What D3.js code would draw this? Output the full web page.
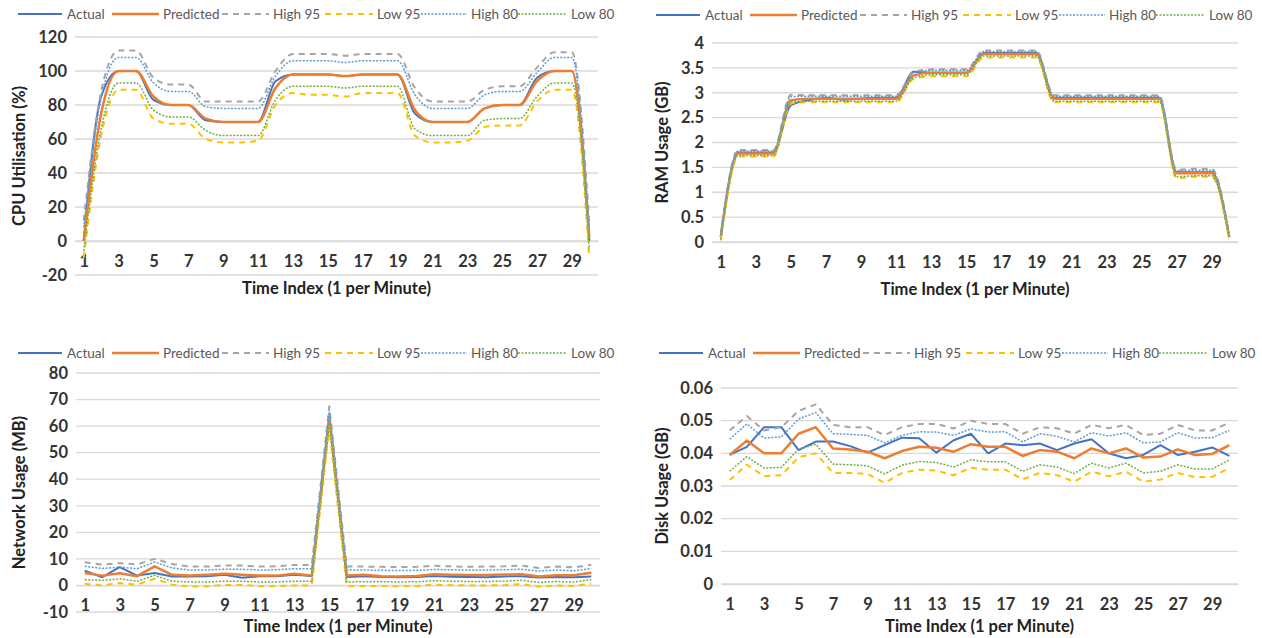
<!DOCTYPE html>
<html>
<head>
<meta charset="utf-8">
<script src="https://cdn.jsdelivr.net/npm/d3@7"></script>
<style>
  body { margin: 0; background: #fff; }
  svg { display: block; }
  text { font-family: Lato, "Open Sans", sans-serif; }
</style>
</head>
<body>
<svg id="chart" width="1262" height="638"></svg>
<script>
// ---- data ----
const timeIndex = d3.range(1, 31);
const xTickLabels = timeIndex.filter(d => d % 2 === 1);
const seriesNames = ["Actual", "Predicted", "High 95", "Low 95", "High 80", "Low 80"];

// CPU utilisation (%)
const cpuActual    = [0, 85, 100, 100, 83, 80, 80, 71, 70, 70, 70, 94, 98, 98, 98, 97, 98, 98, 98, 75, 70, 70, 70, 78, 80, 80, 96, 100, 100, 0];
const cpuPredicted = [0, 75, 100, 100, 85, 80, 80, 72, 70, 70, 70, 90, 98, 98, 98, 97, 98, 98, 98, 77, 70, 70, 70, 78, 80, 80, 94, 100, 100, 2];
const cpuHigh95    = [12, 88, 112, 112, 96, 92, 92, 82, 82, 82, 82, 100, 110, 110, 110, 109, 110, 110, 110, 90, 82, 82, 82, 89, 91, 91, 102, 111, 111, 10];
const cpuLow95     = [-10, 62, 89, 89, 72, 69, 69, 60, 58, 58, 59, 80, 87, 86, 86, 85, 87, 87, 87, 62, 58, 58, 59, 67, 68, 68, 82, 89, 89, -10];
const cpuHigh80    = [8, 84, 108, 108, 93, 88, 88, 79, 78, 78, 78, 97, 106, 106, 106, 105, 106, 106, 106, 86, 78, 78, 78, 86, 88, 88, 99, 108, 108, 6];
const cpuLow80     = [-6, 66, 93, 93, 77, 73, 73, 65, 62, 62, 62, 83, 91, 91, 91, 90, 91, 91, 91, 66, 62, 62, 62, 71, 72, 72, 85, 93, 93, -5];

// RAM usage (GB)
const ramActual    = [0.1, 1.8, 1.8, 1.8, 2.75, 2.85, 2.9, 2.86, 2.88, 2.9, 2.9, 3.42, 3.4, 3.4, 3.4, 3.8, 3.8, 3.8, 3.8, 2.9, 2.9, 2.9, 2.9, 2.9, 2.9, 2.9, 1.4, 1.4, 1.4, 0.1];
const ramPredicted = [0.1, 1.78, 1.78, 1.78, 2.85, 2.88, 2.88, 2.88, 2.88, 2.88, 2.88, 3.35, 3.4, 3.4, 3.4, 3.78, 3.78, 3.78, 3.78, 2.88, 2.88, 2.88, 2.88, 2.88, 2.88, 2.88, 1.38, 1.38, 1.38, 0.1];
const ramHigh95    = [0.17, 1.85, 1.85, 1.85, 2.96, 2.95, 2.95, 2.95, 2.95, 2.95, 2.95, 3.42, 3.47, 3.47, 3.47, 3.85, 3.85, 3.85, 3.85, 2.95, 2.95, 2.95, 2.95, 2.95, 2.95, 2.95, 1.45, 1.47, 1.47, 0.15];
const ramLow95     = [0.03, 1.72, 1.72, 1.72, 2.78, 2.81, 2.81, 2.81, 2.81, 2.81, 2.81, 3.28, 3.33, 3.33, 3.33, 3.71, 3.71, 3.71, 3.71, 2.81, 2.81, 2.81, 2.81, 2.81, 2.81, 2.81, 1.28, 1.31, 1.31, 0.05];
const ramHigh80    = [0.15, 1.83, 1.83, 1.83, 2.92, 2.93, 2.93, 2.93, 2.93, 2.93, 2.93, 3.4, 3.45, 3.45, 3.45, 3.83, 3.83, 3.83, 3.83, 2.93, 2.93, 2.93, 2.93, 2.93, 2.93, 2.93, 1.43, 1.44, 1.44, 0.13];
const ramLow80     = [0.05, 1.74, 1.74, 1.74, 2.81, 2.83, 2.83, 2.83, 2.83, 2.83, 2.83, 3.3, 3.36, 3.36, 3.36, 3.74, 3.74, 3.74, 3.74, 2.83, 2.83, 2.83, 2.83, 2.83, 2.83, 2.83, 1.31, 1.33, 1.33, 0.07];

// Network usage (MB)
const netActual    = [5.6, 3.1, 6.9, 3.7, 4.7, 3.4, 3.4, 3.5, 4.0, 2.9, 3.5, 3.5, 4.0, 3.6, 64, 3.2, 3.5, 3.2, 3.1, 3.2, 3.6, 3.3, 3.2, 3.1, 3.4, 3.5, 3.0, 3.2, 3.1, 3.4];
const netPredicted = [4.7, 3.7, 4.6, 3.5, 7.2, 4.0, 3.7, 4.0, 4.4, 4.0, 3.7, 3.7, 4.4, 3.7, 63, 3.7, 4.0, 3.5, 3.4, 3.6, 4.2, 4.0, 3.9, 3.9, 4.1, 4.2, 3.4, 3.8, 3.8, 4.8];
const netHigh95    = [8.7, 7.9, 8.4, 7.9, 10.0, 8.1, 7.1, 7.1, 7.5, 7.5, 7.1, 7.2, 7.7, 7.7, 67.5, 7.1, 7.1, 7.0, 6.9, 7.0, 7.4, 7.2, 7.0, 7.1, 7.2, 7.5, 6.6, 7.1, 6.8, 7.8];
const netLow95     = [0.6, 0.0, 0.9, 0.3, 2.5, 0.3, -0.4, -0.4, 0.2, 0.2, -0.3, -0.3, 0.0, 0.0, 59.5, -0.3, -0.2, -0.2, -0.3, -0.2, 0.3, 0.1, 0.0, 0.0, 0.1, 0.5, -0.5, 0.0, -0.2, 0.6];
const netHigh80    = [7.2, 6.4, 6.9, 6.3, 8.8, 6.6, 5.8, 5.8, 6.1, 6.1, 5.8, 5.9, 6.3, 6.3, 66, 5.8, 5.8, 5.7, 5.6, 5.7, 6.0, 5.9, 5.8, 5.8, 5.9, 6.1, 5.4, 5.8, 5.5, 6.4];
const netLow80     = [2.2, 1.9, 2.5, 1.6, 3.8, 1.6, 1.3, 1.3, 1.6, 1.6, 1.3, 1.3, 1.6, 1.6, 61, 1.3, 1.4, 1.4, 1.3, 1.4, 1.8, 1.6, 1.5, 1.5, 1.6, 2.0, 1.1, 1.5, 1.3, 2.2];

// Disk usage (GB)
const diskActual    = [0.0395, 0.042, 0.048, 0.048, 0.041, 0.0436, 0.0436, 0.0422, 0.0402, 0.0425, 0.0448, 0.0446, 0.0402, 0.044, 0.046, 0.040, 0.043, 0.0425, 0.043, 0.041, 0.043, 0.0443, 0.040, 0.0385, 0.0395, 0.0425, 0.0395, 0.0405, 0.0418, 0.0392];
const diskPredicted = [0.0395, 0.0439, 0.040, 0.040, 0.046, 0.048, 0.0415, 0.0412, 0.0405, 0.0385, 0.0407, 0.042, 0.0417, 0.0405, 0.0428, 0.042, 0.042, 0.0392, 0.041, 0.0405, 0.0385, 0.0415, 0.040, 0.0415, 0.0387, 0.039, 0.0412, 0.0395, 0.0398, 0.0425];
const diskHigh95    = [0.047, 0.0514, 0.047, 0.048, 0.053, 0.055, 0.0487, 0.048, 0.048, 0.0456, 0.048, 0.049, 0.049, 0.0476, 0.050, 0.049, 0.049, 0.046, 0.048, 0.0477, 0.046, 0.0487, 0.0477, 0.0487, 0.0456, 0.046, 0.0487, 0.047, 0.047, 0.0494];
const diskLow95     = [0.0318, 0.0365, 0.033, 0.0333, 0.0388, 0.040, 0.034, 0.034, 0.0337, 0.031, 0.034, 0.035, 0.0347, 0.0333, 0.0356, 0.035, 0.035, 0.032, 0.034, 0.0333, 0.0313, 0.0344, 0.033, 0.0344, 0.0313, 0.032, 0.034, 0.0327, 0.0328, 0.0355];
const diskHigh80    = [0.0443, 0.049, 0.0447, 0.045, 0.0505, 0.0525, 0.046, 0.0458, 0.0455, 0.0432, 0.0455, 0.0466, 0.0465, 0.0455, 0.0475, 0.0465, 0.0466, 0.0435, 0.046, 0.0452, 0.0435, 0.0463, 0.0453, 0.0463, 0.0432, 0.0435, 0.0463, 0.0447, 0.0448, 0.047];
const diskLow80     = [0.0345, 0.039, 0.0355, 0.0357, 0.0413, 0.0428, 0.0367, 0.0365, 0.0362, 0.0337, 0.0364, 0.0375, 0.0372, 0.0358, 0.038, 0.0374, 0.0374, 0.0345, 0.0365, 0.0358, 0.0338, 0.037, 0.0355, 0.037, 0.034, 0.0345, 0.0365, 0.0352, 0.0352, 0.038];

const cpuTicks  = [-20, 0, 20, 40, 60, 80, 100, 120];
const ramTicks  = [0, 0.5, 1, 1.5, 2, 2.5, 3, 3.5, 4];
const netTicks  = [-10, 0, 10, 20, 30, 40, 50, 60, 70, 80];
const diskTicks = [0, 0.01, 0.02, 0.03, 0.04, 0.05, 0.06];

// ---- styling ----
const seriesStyle = [
  { color: "#4472C4", width: 2,   dash: null },
  { color: "#ED7D31", width: 2.5, dash: null },
  { color: "#A5A5A5", width: 2,   dash: "6,5" },
  { color: "#FFC000", width: 2,   dash: "6,5" },
  { color: "#5B9BD5", width: 1.5, dash: "2,1.5" },
  { color: "#70AD47", width: 1.5, dash: "2,1.5" }
];
// legend entries: line start/end and text x, relative to the panel's legend origin
const legendLayout = [
  { x1: 18,  x2: 62,  tx: 67 },
  { x1: 112, x2: 159, tx: 163 },
  { x1: 222, x2: 269, tx: 273 },
  { x1: 325, x2: 373, tx: 377 },
  { x1: 421, x2: 467, tx: 471 },
  { x1: 518, x2: 567, tx: 571 }
];

const tickFont = 16.5;
const titleFont = 16.5;
const legendFont = 13.5;

const svg = d3.select("#chart");

const panels = [
  { left: 75,  right: 598,  top: 37,  bottom: 275, domain: [-20, 120], ticks: cpuTicks,
    series: [cpuActual, cpuPredicted, cpuHigh95, cpuLow95, cpuHigh80, cpuLow80], curve: d3.curveMonotoneX,
    yTitle: "CPU Utilisation (%)", yTitleX: 21, xTitleY: 294, legendDx: 0, legendY: 14 },
  { left: 712, right: 1238, top: 43,  bottom: 242, domain: [0, 4], ticks: ramTicks,
    series: [ramActual, ramPredicted, ramHigh95, ramLow95, ramHigh80, ramLow80], curve: d3.curveMonotoneX,
    yTitle: "RAM Usage (GB)", yTitleX: 664, xTitleY: 295, legendDx: 638, legendY: 15 },
  { left: 76,  right: 600,  top: 373, bottom: 612, domain: [-10, 80], ticks: netTicks,
    series: [netActual, netPredicted, netHigh95, netLow95, netHigh80, netLow80], curve: d3.curveLinear,
    yTitle: "Network Usage (MB)", yTitleX: 21, xTitleY: 632, legendDx: 0, legendY: 353 },
  { left: 721, right: 1238, top: 388, bottom: 584, domain: [0, 0.06], ticks: diskTicks,
    series: [diskActual, diskPredicted, diskHigh95, diskLow95, diskHigh80, diskLow80], curve: d3.curveLinear,
    yTitle: "Disk Usage (GB)", yTitleX: 664, xTitleY: 632, legendDx: 641, legendY: 353 }
];

panels.forEach(p => {
  const g = svg.append("g");
  const x = d3.scalePoint().domain(timeIndex).range([p.left, p.right]).padding(0.5);
  const y = d3.scaleLinear().domain(p.domain).range([p.bottom, p.top]);

  // horizontal gridlines
  g.append("g").selectAll("line").data(p.ticks).join("line")
    .attr("x1", p.left).attr("x2", p.right)
    .attr("y1", d => y(d)).attr("y2", d => y(d))
    .attr("stroke", "#D9D9D9").attr("stroke-width", 1.3);

  // y axis labels
  const ya = g.append("g").attr("transform", `translate(${p.left},0)`)
    .call(d3.axisLeft(y).tickValues(p.ticks).tickFormat(d => d).tickSize(0).tickPadding(8));
  ya.select(".domain").remove();
  ya.selectAll("text").attr("font-size", tickFont).attr("font-weight", 700).attr("fill", "#333")
    .attr("font-family", "Lato, 'Open Sans', sans-serif");

  // category axis sits on the zero line
  const xa = g.append("g").attr("transform", `translate(0,${y(0)})`)
    .call(d3.axisBottom(x).tickValues(xTickLabels).tickSize(0).tickPadding(14));
  xa.select(".domain").attr("stroke", "#D9D9D9").attr("stroke-width", 1.3);
  xa.selectAll("text").attr("font-size", tickFont).attr("font-weight", 700).attr("fill", "#333")
    .attr("font-family", "Lato, 'Open Sans', sans-serif");

  // series lines
  p.series.forEach((vals, i) => {
    const st = seriesStyle[i];
    const line = d3.line().x((d, j) => x(timeIndex[j])).y(d => y(d)).curve(p.curve);
    g.append("path").datum(vals)
      .attr("d", line)
      .attr("fill", "none")
      .attr("stroke", st.color)
      .attr("stroke-width", st.width)
      .attr("stroke-dasharray", st.dash)
      .attr("stroke-linejoin", "round");
  });

  // axis titles
  g.append("text")
    .attr("transform", `translate(${p.yTitleX},${(p.top + p.bottom) / 2}) rotate(-90)`)
    .attr("text-anchor", "middle").attr("dominant-baseline", "middle")
    .attr("font-size", titleFont).attr("font-weight", 700).attr("fill", "#222")
    .text(p.yTitle);
  g.append("text")
    .attr("x", (p.left + p.right) / 2).attr("y", p.xTitleY)
    .attr("text-anchor", "middle")
    .attr("font-size", titleFont).attr("font-weight", 700).attr("fill", "#222")
    .text("Time Index (1 per Minute)");

  // legend
  const lg = g.append("g").attr("transform", `translate(${p.legendDx},${p.legendY})`);
  seriesNames.forEach((name, i) => {
    const st = seriesStyle[i], L = legendLayout[i];
    lg.append("line").attr("x1", L.x1).attr("x2", L.x2).attr("y1", 0).attr("y2", 0)
      .attr("stroke", st.color).attr("stroke-width", st.width).attr("stroke-dasharray", st.dash);
    lg.append("text").attr("x", L.tx).attr("y", 0).attr("dominant-baseline", "central")
      .attr("font-size", legendFont).attr("fill", "#595959").text(name);
  });
});
</script>
</body>
</html>
